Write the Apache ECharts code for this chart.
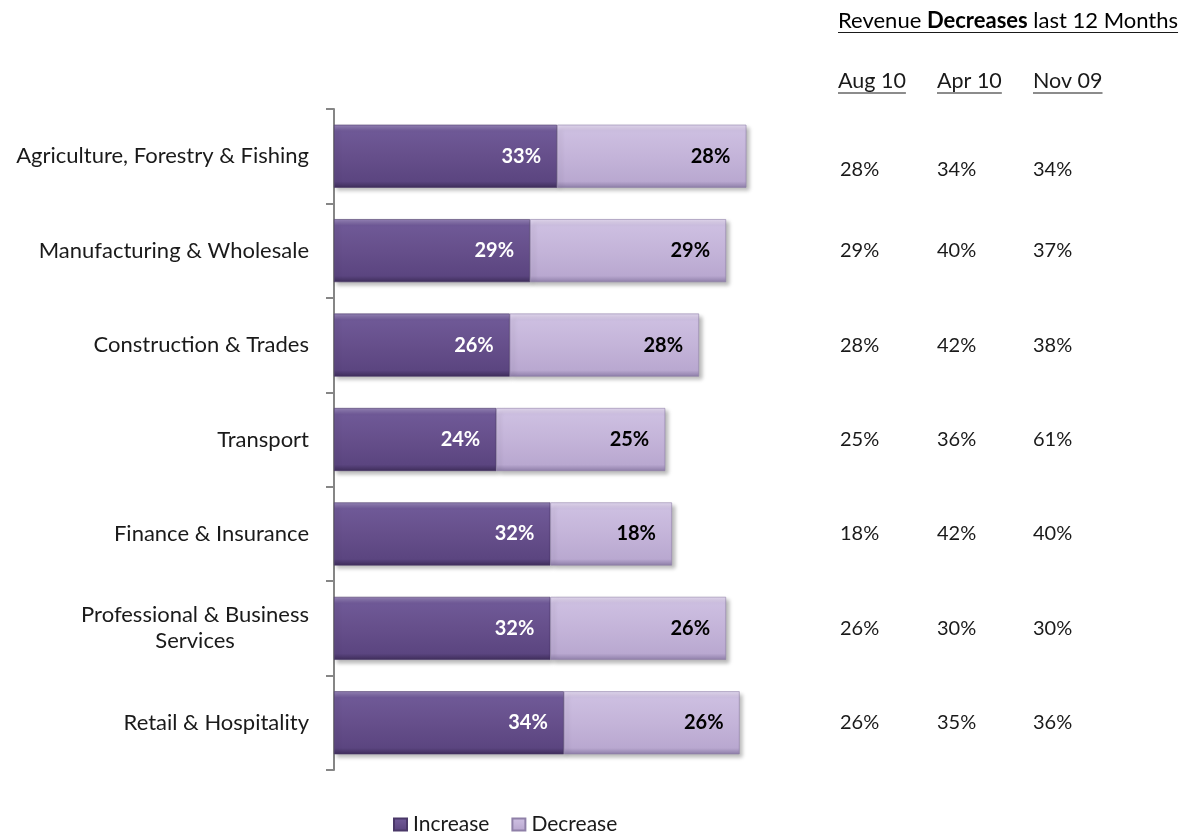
<!DOCTYPE html>
<html>
<head>
<meta charset="utf-8">
<title>Revenue change by industry</title>
<script src="https://cdn.jsdelivr.net/npm/echarts@6/dist/echarts.min.js"></script>
<style>
  html, body { margin: 0; padding: 0; background: #ffffff; }
  #chart { width: 1194px; height: 836px; }
</style>
</head>
<body>
<div id="chart"></div>
<script>
// Industries, top to bottom
const industries = [
  'Agriculture, Forestry & Fishing',
  'Manufacturing & Wholesale',
  'Construction & Trades',
  'Transport',
  'Finance & Insurance',
  'Professional & Business\nServices',
  'Retail & Hospitality'
];

// Share of businesses reporting revenue increases / decreases (%)
const increase = [33, 29, 26, 24, 32, 32, 34];
const decrease = [28, 29, 28, 25, 18, 26, 26];

// Revenue decreases over the last 12 months, by survey wave (%)
const waveLabels = ['Aug 10', 'Apr 10', 'Nov 09'];
const decAug10 = [28, 29, 28, 25, 18, 26, 26];
const decApr10 = [34, 40, 42, 36, 42, 30, 35];
const decNov09 = [34, 37, 38, 61, 40, 30, 36];

const FONT = 'Lato, "Open Sans", sans-serif';
const TEXT = '#1a1a1a';

const chart = echarts.init(document.getElementById('chart'));

function vGrad(stops) {
  return new echarts.graphic.LinearGradient(0, 0, 0, 1,
    stops.map((c, i) => ({ offset: [0, 0.1, 0.5, 0.9, 1][i], color: c })));
}
const darkFill = vGrad(['#9584b6', '#6f5997', '#664f8b', '#5b4580', '#3e2d5a']);
const lightFill = vGrad(['#e2d8ee', '#cdbfe1', '#c4b4d9', '#b9a8d0', '#8e7ea8']);

// measure a string so the headings can be underlined
const measureCtx = document.createElement('canvas').getContext('2d');
function textWidth(str, size, weight) {
  measureCtx.font = (weight || 'normal') + ' ' + size + 'px ' + FONT;
  return measureCtx.measureText(str).width;
}

// table column x positions (left edge of text)
const colX = [840, 937, 1033];
const gridLeft = 334, gridWidth = 676;
const gridRightEdge = gridLeft + gridWidth;

function tableAxis(values, idx) {
  return {
    type: 'category',
    inverse: true,
    position: 'right',
    offset: colX[idx] - gridRightEdge,
    data: industries,
    axisLine: { show: false },
    axisTick: { show: false },
    axisLabel: {
      margin: 0,
      fontFamily: FONT,
      fontSize: 20,
      color: TEXT,
      formatter: (v, i) => (i === 0 ? '{first|' + values[i] + '%}' : values[i] + '%'),
      rich: { first: { fontFamily: FONT, fontSize: 20, color: TEXT, padding: [26, 0, 0, 0] } }
    }
  };
}

// headings above the table
const titleSize = 22, headSize = 21.5;
const titleParts = [['Revenue ', 'normal'], ['Decreases', 'bold'], [' last 12 Months', 'normal']];
const titleW = titleParts.reduce((s, p) => s + textWidth(p[0], titleSize, p[1]), 0);
const titleX = 838, titleTop = 10, titleUnder = 32.5;
const headTop = 70.5, headUnder = 93;
const headX = [838, 937, 1033];

const graphics = [
  {
    type: 'text', left: titleX, top: titleTop,
    style: {
      text: '{r|Revenue }{b|Decreases}{r| last 12 Months}',
      rich: {
        r: { fontFamily: FONT, fontSize: titleSize, color: TEXT },
        b: { fontFamily: FONT, fontSize: titleSize, color: TEXT, fontWeight: 'bold' }
      }
    }
  },
  { type: 'line', shape: { x1: titleX, y1: titleUnder, x2: titleX + titleW, y2: titleUnder },
    style: { stroke: TEXT, lineWidth: 1.2 } }
];
waveLabels.forEach((lab, i) => {
  graphics.push({
    type: 'text', left: headX[i], top: headTop,
    style: { text: lab, fontFamily: FONT, fontSize: headSize, fill: TEXT }
  });
  graphics.push({
    type: 'line',
    shape: { x1: headX[i], y1: headUnder, x2: headX[i] + textWidth(lab, headSize), y2: headUnder },
    style: { stroke: TEXT, lineWidth: 1.2 }
  });
});

const labelCommon = {
  show: true,
  position: 'insideRight',
  distance: 16,
  fontFamily: FONT,
  fontSize: 20,
  fontWeight: 'bold',
  formatter: '{c}%'
};
const barShadow = { shadowColor: 'rgba(0,0,0,0.28)', shadowBlur: 4, shadowOffsetX: 3, shadowOffsetY: 3 };

chart.setOption({
  animation: false,
  textStyle: { fontFamily: FONT },
  grid: { left: gridLeft, top: 109, width: gridWidth, height: 661 },
  legend: {
    data: ['Increase', 'Decrease'],
    left: 388, top: 809,
    icon: 'rect', itemWidth: 13, itemHeight: 12, itemGap: 22,
    textStyle: { fontFamily: FONT, fontSize: 21, color: TEXT, padding: [0, 0, 0, 1] }
  },
  xAxis: { type: 'value', min: 0, max: 100, show: false },
  yAxis: [
    {
      type: 'category',
      inverse: true,
      data: industries,
      axisLine: { show: true, onZero: false, lineStyle: { color: '#868686', width: 2 } },
      axisTick: { show: true, length: 8, lineStyle: { color: '#868686', width: 2 } },
      axisLabel: {
        margin: 25,
        formatter: v => v.split('\n').map(s => '{t|' + s + '}').join('\n'),
        rich: { t: { fontFamily: FONT, fontSize: 22, color: TEXT, align: 'center', lineHeight: 26 } }
      }
    },
    tableAxis(decAug10, 0),
    tableAxis(decApr10, 1),
    tableAxis(decNov09, 2)
  ],
  graphic: graphics,
  series: [
    {
      name: 'Increase', type: 'bar', stack: 'rev', barWidth: 63,
      data: increase,
      itemStyle: Object.assign({ color: darkFill, borderColor: '#4a3868', borderWidth: 0.6 }, barShadow),
      label: Object.assign({ color: '#ffffff' }, labelCommon)
    },
    {
      name: 'Decrease', type: 'bar', stack: 'rev', barWidth: 63,
      data: decrease,
      itemStyle: Object.assign({ color: lightFill, borderColor: '#8f80a8', borderWidth: 0.6 }, barShadow),
      label: Object.assign({ color: '#000000' }, labelCommon)
    }
  ]
});
</script>
</body>
</html>
